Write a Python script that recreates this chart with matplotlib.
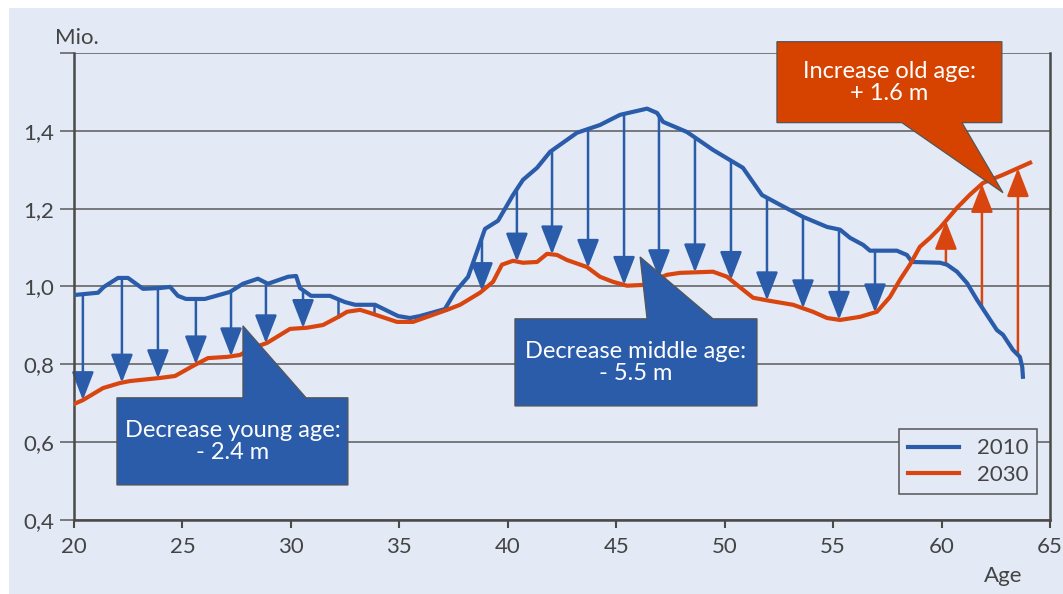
import numpy as np
import matplotlib
matplotlib.use("Agg")
import matplotlib.pyplot as plt
from matplotlib.patches import Polygon, Rectangle

plt.rcParams['font.family'] = ['Lato', 'DejaVu Sans']

# population by age (millions)
age_2010 = [20.0, 21.11, 21.38, 22.03, 22.49, 23.18, 23.97, 24.43, 24.79, 25.16, 26.04, 27.19,
            27.79, 28.48, 28.94, 29.87, 30.24, 30.42, 30.93, 31.80, 32.49, 32.96, 33.88, 34.94,
            35.49, 35.95, 37.10, 37.57, 38.17, 38.95, 39.55, 40.24, 40.70, 41.35, 41.95, 43.19,
            44.25, 45.17, 46.42, 46.88, 47.16, 48.26, 49.46, 50.84, 51.72, 52.55, 53.61, 54.72,
            55.32, 55.78, 56.38, 56.70, 57.94, 58.40, 58.64, 59.93, 60.25, 60.71, 61.17, 61.63,
            62.55, 62.83, 63.29, 63.61, 63.72, 63.75]
pop_2010 = [0.978, 0.984, 0.999, 1.022, 1.022, 0.994, 0.996, 0.999, 0.976, 0.968, 0.968, 0.986,
            1.007, 1.020, 1.007, 1.025, 1.027, 0.996, 0.976, 0.976, 0.960, 0.953, 0.953, 0.924,
            0.919, 0.924, 0.942, 0.986, 1.025, 1.148, 1.169, 1.235, 1.274, 1.305, 1.346, 1.395,
            1.415, 1.441, 1.457, 1.446, 1.423, 1.397, 1.351, 1.305, 1.235, 1.210, 1.179, 1.153,
            1.146, 1.125, 1.107, 1.092, 1.092, 1.081, 1.063, 1.061, 1.056, 1.038, 1.009, 0.966,
            0.888, 0.876, 0.837, 0.819, 0.793, 0.768]

age_2030 = [20.0, 20.41, 21.34, 22.12, 22.58, 23.97, 24.66, 25.49, 26.18, 27.05, 27.65, 28.25,
            28.90, 29.96, 30.74, 31.48, 32.26, 32.59, 33.19, 33.65, 34.89, 35.63, 37.20, 37.80,
            38.72, 39.32, 39.73, 40.24, 40.70, 41.35, 41.81, 42.27, 42.73, 43.65, 44.25, 44.85,
            45.50, 46.23, 47.34, 47.94, 49.46, 50.11, 50.57, 51.31, 52.09, 53.15, 54.07, 54.72,
            55.32, 56.24, 57.02, 57.62, 58.08, 58.54, 59.00, 59.47, 59.93, 60.71, 61.31, 61.91,
            62.83, 64.08]
pop_2030 = [0.698, 0.708, 0.739, 0.752, 0.757, 0.765, 0.770, 0.796, 0.816, 0.819, 0.824, 0.842,
            0.855, 0.891, 0.894, 0.901, 0.924, 0.935, 0.940, 0.932, 0.909, 0.909, 0.940, 0.953,
            0.984, 1.012, 1.056, 1.066, 1.061, 1.063, 1.084, 1.081, 1.068, 1.050, 1.025, 1.012,
            1.002, 1.004, 1.030, 1.035, 1.038, 1.025, 1.004, 0.971, 0.963, 0.953, 0.935, 0.919,
            0.914, 0.922, 0.935, 0.973, 1.017, 1.056, 1.102, 1.125, 1.151, 1.202, 1.236, 1.266,
            1.287, 1.318]

arrow_ages = [20.41, 22.21, 23.87, 25.62, 27.24, 28.85, 30.56, 32.17, 33.83, 35.49, 37.15,
              38.81, 40.42, 42.04, 43.70, 45.36, 46.97, 48.63, 50.29, 51.95, 53.61, 55.27,
              56.93, 60.20, 61.86, 63.52]

x_ticks = [20, 25, 30, 35, 40, 45, 50, 55, 60, 65]
y_ticks = [0.4, 0.6, 0.8, 1.0, 1.2, 1.4, 1.6]
y_labels = ['0,4', '0,6', '0,8', '1,0', '1,2', '1,4', '']

BLUE = '#2b5caa'
ORANGE = '#d9450f'
BOX_ORANGE = '#d64300'
BG = '#e3eaf6'
GRAY = '#4a4a4a'
TXT = '#444444'

fig = plt.figure(figsize=(10.63, 5.94), dpi=100, facecolor='white')
fig.patches.append(Rectangle((9 / 1063, 0), 1, 586 / 594, transform=fig.transFigure,
                             facecolor=BG, edgecolor='none', zorder=-10))
ax = fig.add_axes([0.0696, 0.1246, 0.9182, 0.7862])
ax.set_facecolor('none')

ax.set_xlim(20, 65)
ax.set_ylim(0.4, 1.6)
ax.set_xticks(x_ticks)
ax.set_yticks(y_ticks)
ax.set_yticklabels(y_labels)
ax.yaxis.grid(True, color='#5a5a5a', lw=1.1)
ax.set_axisbelow(True)
ax.tick_params(axis='y', direction='out', length=10, width=1.1, color='#5a5a5a',
               labelsize=16, labelcolor=TXT, pad=4)
ax.tick_params(axis='x', direction='out', length=6, width=1.5, color=GRAY,
               labelsize=16, labelcolor=TXT, pad=6)
ax.spines['top'].set_visible(False)
for s in ['left', 'right', 'bottom']:
    ax.spines[s].set_color(GRAY)
    ax.spines[s].set_linewidth(1.8)

ax.plot(age_2010, pop_2010, color=BLUE, lw=3, solid_joinstyle='round', zorder=3, label='2010')
ax.plot(age_2030, pop_2030, color=ORANGE, lw=3, solid_joinstyle='round', zorder=3, label='2030')

# arrows from 2010 to 2030
for a in arrow_ages:
    y0 = np.interp(a, age_2010, pop_2010)
    y1 = np.interp(a, age_2030, pop_2030)
    c = BLUE if y1 < y0 else ORANGE
    if abs(y1 - y0) < 0.065:
        ax.plot([a, a], [y0, y1], color=c, lw=1.8, zorder=2)
    else:
        ax.annotate('', xy=(a, y1), xytext=(a, y0), zorder=2,
                    arrowprops=dict(arrowstyle='-|>,head_length=1.75,head_width=0.68',
                                    color=c, lw=1.8, shrinkA=0, shrinkB=0,
                                    mutation_scale=10))


def callout(x0, x1, y_bot, y_top, bl, br, tip, color, text, on_top=True):
    if on_top:
        pts = [(x0, y_bot), (x1, y_bot), (x1, y_top), (br, y_top), tip, (bl, y_top), (x0, y_top)]
    else:
        pts = [(x0, y_top), (x1, y_top), (x1, y_bot), (br, y_bot), tip, (bl, y_bot), (x0, y_bot)]
    ax.add_patch(Polygon(pts, closed=True, facecolor=color, edgecolor='#555555', lw=0.9,
                         zorder=5, clip_on=False))
    ax.text((x0 + x1) / 2, (y_bot + y_top) / 2, text, color='white', fontsize=17,
            ha='center', va='center', zorder=6, linespacing=1.05)


callout(21.98, 32.63, 0.490, 0.714, 27.79, 30.70, (27.79, 0.899), BLUE,
        'Decrease young age:\n- 2.4 m')
callout(40.33, 51.49, 0.693, 0.917, 46.42, 49.46, (46.10, 1.076), BLUE,
        'Decrease middle age:\n- 5.5 m')
callout(52.41, 62.78, 1.421, 1.629, 58.17, 60.94, (62.83, 1.241), BOX_ORANGE,
        'Increase old age:\n+ 1.6 m', on_top=False)

leg = ax.legend(loc='lower right', bbox_to_anchor=(0.987, 0.056), borderaxespad=0,
                fancybox=False, fontsize=16, handlelength=2.3, framealpha=1,
                facecolor=BG, edgecolor='#555555', labelcolor=TXT, labelspacing=0.3)
leg.get_frame().set_linewidth(1.1)
leg.set_zorder(7)

fig.text(55 / 1063, 1 - 38 / 594, 'Mio.', fontsize=16, color=TXT, ha='left', va='center')
fig.text(1022 / 1063, 1 - 576 / 594, 'Age', fontsize=16, color=TXT, ha='right', va='center')

fig.savefig('out.png', dpi=100, facecolor=fig.get_facecolor())
